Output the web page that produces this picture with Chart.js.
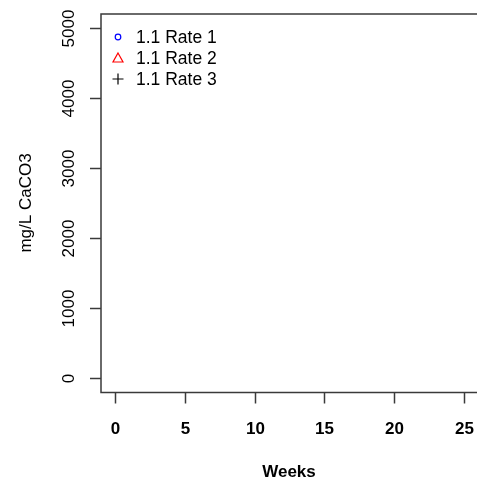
<!DOCTYPE html>
<html><head><meta charset="utf-8">
<script src="https://cdn.jsdelivr.net/npm/chart.js@4.4.1/dist/chart.umd.min.js"></script>
<style>html,body{margin:0;padding:0;overflow:hidden;background:#fff}#wrap{width:480px;height:483px}</style>
</head><body><div id="wrap"><canvas id="c" width="480" height="483"></canvas></div>
<script>
// Data (the reference plot shows no plotted points)
const weeks = [];
const rate1 = [];
const rate2 = [];
const rate3 = [];
const seriesLabels = ['1.1 Rate 1', '1.1 Rate 2', '1.1 Rate 3'];
const seriesColors = ['#0000ff', '#ff0000', '#000000'];
const seriesSymbols = ['circle', 'triangle', 'cross'];
const xTickValues = [0, 5, 10, 15, 20, 25];
const yTickValues = [0, 1000, 2000, 3000, 4000, 5000];
const xTitle = 'Weeks';
const yTitle = 'mg/L CaCO3';

const FONT = '"Liberation Sans", Arial, sans-serif';
const seriesValues = [rate1, rate2, rate3];

const rAxesPlugin = {
  id: 'rAxes',
  afterDraw(chart) {
    const ctx = chart.ctx;
    const a = chart.chartArea;
    const xs = chart.scales.x, ys = chart.scales.y;
    ctx.save();
    ctx.strokeStyle = '#3a3a3a';
    ctx.lineWidth = 1.5;
    // box
    ctx.strokeRect(a.left, a.top, a.right - a.left, a.bottom - a.top);
    // x ticks
    ctx.fillStyle = '#000';
    ctx.font = 'bold 17px ' + FONT;
    ctx.textAlign = 'center';
    ctx.textBaseline = 'middle';
    xs.ticks.forEach(t => {
      const px = Math.round(xs.getPixelForValue(t.value)) + 0.5;
      ctx.beginPath();
      ctx.moveTo(px, a.bottom);
      ctx.lineTo(px, a.bottom + 11);
      ctx.stroke();
      ctx.fillText(String(t.value), px, 429);
    });
    // y ticks
    ctx.font = '17px ' + FONT;
    ys.ticks.forEach(t => {
      const py = Math.round(ys.getPixelForValue(t.value)) + 0.5;
      ctx.beginPath();
      ctx.moveTo(a.left, py);
      ctx.lineTo(a.left - 11, py);
      ctx.stroke();
      ctx.save();
      ctx.translate(69, py);
      ctx.rotate(-Math.PI / 2);
      ctx.fillText(String(t.value), 0, 0);
      ctx.restore();
    });
    // titles
    ctx.font = 'bold 17px ' + FONT;
    ctx.fillText(xTitle, 289, 472);
    ctx.font = '17px ' + FONT;
    ctx.save();
    ctx.translate(26, 203);
    ctx.rotate(-Math.PI / 2);
    ctx.fillText(yTitle, 0, 0);
    ctx.restore();
    // legend
    ctx.font = '17.5px ' + FONT;
    ctx.textAlign = 'left';
    chart.data.datasets.forEach((ds, i) => {
      const cy = 37 + i * 21;
      const cx = 118;
      ctx.strokeStyle = ds.borderColor;
      ctx.lineWidth = 1.2;
      ctx.beginPath();
      if (ds.pointStyle === 'circle') {
        ctx.arc(cx, cy, 2.8, 0, Math.PI * 2);
      } else if (ds.pointStyle === 'triangle') {
        ctx.moveTo(cx, cy - 5);
        ctx.lineTo(cx + 5, cy + 4);
        ctx.lineTo(cx - 5, cy + 4);
        ctx.closePath();
      } else {
        ctx.moveTo(cx - 5.5, cy); ctx.lineTo(cx + 5.5, cy);
        ctx.moveTo(cx, cy - 5.5); ctx.lineTo(cx, cy + 5.5);
      }
      ctx.stroke();
      ctx.fillStyle = '#000';
      ctx.fillText(ds.label, 136, cy + 1);
    });
    ctx.restore();
  }
};

new Chart(document.getElementById('c'), {
  type: 'scatter',
  data: {
    datasets: seriesLabels.map((lab, i) => ({
      label: lab,
      data: weeks.map((w, j) => ({ x: w, y: seriesValues[i][j] })),
      borderColor: seriesColors[i],
      backgroundColor: 'transparent',
      pointStyle: seriesSymbols[i],
      pointRadius: 4,
      borderWidth: 1.2
    }))
  },
  options: {
    responsive: false,
    animation: false,
    devicePixelRatio: 1,
    layout: { padding: { left: 101, top: 14, right: 2, bottom: 90.5 } },
    plugins: { legend: { display: false }, tooltip: { enabled: false } },
    scales: {
      x: {
        type: 'linear', min: -1, max: 26, display: false,
        afterBuildTicks: s => { s.ticks = xTickValues.map(v => ({ value: v })); }
      },
      y: {
        type: 'linear', min: -200, max: 5200, display: false,
        afterBuildTicks: s => { s.ticks = yTickValues.map(v => ({ value: v })); }
      }
    }
  },
  plugins: [rAxesPlugin]
});
</script>
</body></html>
